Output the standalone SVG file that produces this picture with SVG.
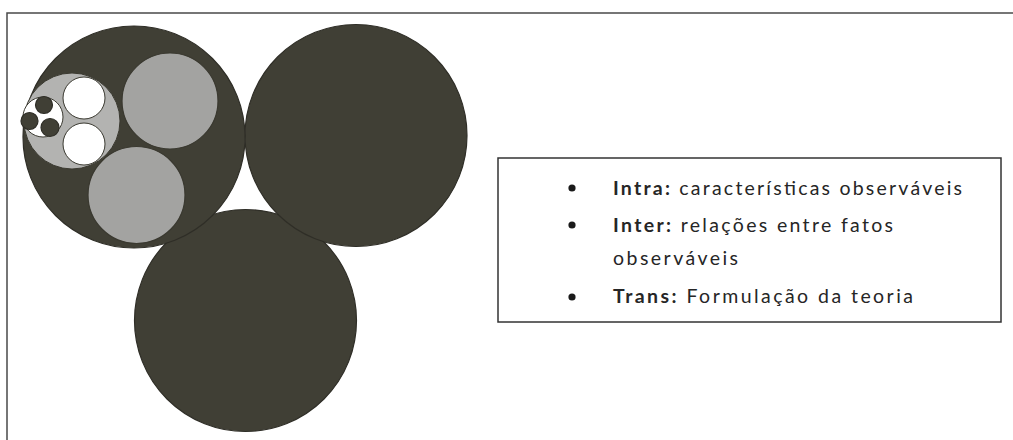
<svg xmlns="http://www.w3.org/2000/svg" width="1013" height="440" viewBox="0 0 1013 440">
  <style>
    .dark { fill: #403f35; stroke: #2f2e27; stroke-width: 1.2; }
    .gray { fill: #a3a3a1; stroke: #3a3930; stroke-width: 1.2; }
    .lgray { fill: #b3b3b1; stroke: #3a3930; stroke-width: 1; }
    .white { fill: #ffffff; stroke: #3a3930; stroke-width: 1; }
    .frame { fill: none; stroke: #4a4a4a; stroke-width: 1.5; }
    .txt { font-family: Lato, "Open Sans", "Liberation Sans", sans-serif; font-size: 19.5px; fill: #262626; }
    .b { font-weight: bold; }
    .bullet { fill: #1a1a1a; }
  </style>
  <rect width="1013" height="440" fill="#ffffff"/>
  <path class="frame" d="M7 440 V13 H1013"/>

  <g id="circle-bottom">
    <circle class="dark" cx="245.5" cy="320.5" r="111"/>
  </g>
  <g id="circle-top-right">
    <circle class="dark" cx="356" cy="135.5" r="111"/>
  </g>
  <g id="circle-top-left">
    <circle class="dark" cx="134" cy="137" r="111"/>
    <g id="inner-gray-top">
      <circle class="gray" cx="170" cy="101" r="48"/>
    </g>
    <g id="inner-gray-bottom">
      <circle class="gray" cx="136.5" cy="195" r="48.5"/>
    </g>
    <g id="inner-lightgray">
      <circle class="lgray" cx="72" cy="121" r="48"/>
      <circle class="white" cx="84" cy="98" r="21"/>
      <circle class="white" cx="84" cy="144" r="21"/>
      <g id="inner-white-small">
        <circle class="white" cx="43" cy="117" r="20"/>
        <circle class="dark" cx="44" cy="105" r="8.5"/>
        <circle class="dark" cx="29.5" cy="121" r="8.5"/>
        <circle class="dark" cx="50" cy="127.5" r="9"/>
      </g>
    </g>
  </g>

  <g id="connectors"/>

  <g id="legend">
    <rect x="498" y="158" width="503" height="164" fill="#ffffff" stroke="#333333" stroke-width="1.5"/>
    <circle class="bullet" cx="572" cy="188" r="3.6"/>
    <circle class="bullet" cx="572" cy="225" r="3.6"/>
    <circle class="bullet" cx="572" cy="297" r="3.6"/>
    <text class="txt" x="613" y="195" textLength="349" lengthAdjust="spacing"><tspan class="b">Intra:</tspan> características observáveis</text>
    <text class="txt" x="613" y="232" textLength="280" lengthAdjust="spacing"><tspan class="b">Inter:</tspan> relações entre fatos</text>
    <text class="txt" x="613" y="265" textLength="125" lengthAdjust="spacing">observáveis</text>
    <text class="txt" x="613" y="303" textLength="300" lengthAdjust="spacing"><tspan class="b">Trans:</tspan> Formulação da teoria</text>
  </g>
</svg>
